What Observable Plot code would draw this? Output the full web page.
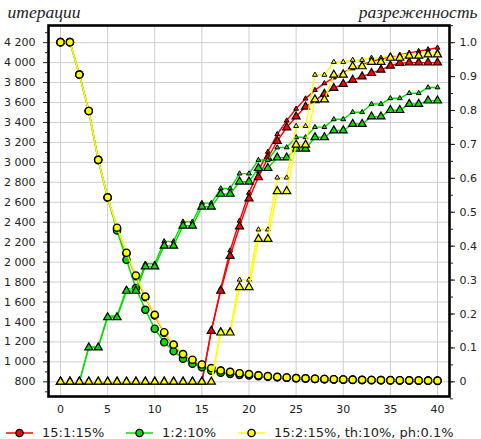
<!DOCTYPE html>
<html><head><meta charset="utf-8">
<script src="https://cdn.jsdelivr.net/npm/d3@7"></script>
<script src="https://cdn.jsdelivr.net/npm/@observablehq/plot@0.6"></script>
<style>
html,body{margin:0;padding:0;background:#fff;}
#chart{position:relative;width:481px;height:439px;overflow:hidden;font-family:"DejaVu Sans",sans-serif;}
#chart svg.plot{position:absolute;left:0;top:0;}
.legend-item{position:absolute;top:420px;height:25px;display:flex;align-items:center;font-size:13px;color:#222;white-space:nowrap;}
.legend-item svg{display:block;}
</style></head><body><div id="chart"></div>
<script>
// ---------- data ----------
const steps = [0,1,2,3,4,5,6,7,8,9,10,11,12,13,14,15,16,17,18,19,20,21,22,23,24,25,26,27,28,29,30,31,32,33,34,35,36,37,38,39,40];
const seriesNames = ["15:1:15%", "1:2:10%", "15:2:15%, th:10%, ph:0.1%"];
const seriesColors = ["#ff0000", "#00e000", "#ffff00"];

// iterations (left axis, circles)
const iterRed    = [4205,4205,3880,3515,3025,2648,2338,2086,1858,1648,1465,1290,1168,1072,1017,970,934,910,897,883,875,863,855,848,842,837,833,830,827,825,823,821,819,818,817,816,815,814,813,812,811];
const iterGreen  = [4205,4205,3880,3515,3025,2648,2318,2024,1739,1522,1332,1197,1107,1031,981,946,912,892,880,870,864,857,851,846,841,836,833,829,827,824,822,820,818,817,816,815,814,813,812,811,810];
const iterYellow = [4205,4205,3880,3515,3025,2650,2345,2094,1866,1655,1472,1297,1174,1078,1022,974,938,913,900,886,878,865,857,850,844,838,835,831,829,826,824,822,820,819,818,817,816,815,814,813,812];

// sparsity (right axis) – large triangles
const sparseLargeRed    = [0,0,0,0,0,0,0,0,0,0,0,0,0,0,0,0,0.150,0.268,0.371,0.458,0.540,0.603,0.660,0.710,0.750,0.782,0.811,0.830,0.849,0.866,0.878,0.890,0.900,0.910,0.920,0.932,0.940,0.941,0.941,0.941,0.941];
const sparseLargeGreen  = [0,0,0,0.101,0.101,0.190,0.190,0.268,0.268,0.340,0.340,0.401,0.401,0.460,0.460,0.516,0.516,0.554,0.554,0.590,0.590,0.630,0.630,0.661,0.661,0.687,0.687,0.721,0.721,0.741,0.741,0.760,0.760,0.782,0.782,0.801,0.801,0.819,0.819,0.829,0.829];
const sparseLargeYellow = [0,0,0,0,0,0,0,0,0,0,0,0,0,0,0,0,0,0.145,0.145,0.279,0.279,0.421,0.421,0.562,0.562,0.699,0.699,0.832,0.832,0.905,0.905,0.930,0.930,0.943,0.943,0.955,0.955,0.961,0.961,0.965,0.965];
// sparsity – small triangles
const sparseSmallRed    = [0,0,0,0,0,0,0,0,0,0,0,0,0,0,0,0,0.150,0.275,0.387,0.475,0.557,0.622,0.678,0.730,0.770,0.805,0.835,0.860,0.880,0.897,0.912,0.924,0.935,0.944,0.952,0.958,0.964,0.970,0.975,0.980,0.985];
const sparseSmallGreen  = [0,0,0,0.103,0.103,0.194,0.194,0.274,0.274,0.348,0.348,0.414,0.414,0.472,0.472,0.527,0.527,0.570,0.570,0.614,0.614,0.654,0.654,0.691,0.691,0.721,0.721,0.751,0.751,0.774,0.774,0.795,0.795,0.819,0.819,0.836,0.836,0.851,0.851,0.868,0.868];
const sparseSmallYellow = [0,0,0,0,0,0,0,0,0,0,0,0,0,0,0,0,0,0.152,0.152,0.301,0.301,0.449,0.449,0.602,0.602,0.754,0.754,0.905,0.905,0.943,0.943,0.949,0.949,0.955,0.955,0.962,0.962,0.967,0.967,0.972,0.972];

// axis ticks and labels
const stepTicks = [0,5,10,15,20,25,30,35,40];
const iterationTicks = [800,1000,1200,1400,1600,1800,2000,2200,2400,2600,2800,3000,3200,3400,3600,3800,4000,4200];
const iterationTickLabels = ["800","1 000","1 200","1 400","1 600","1 800","2 000","2 200","2 400","2 600","2 800","3 000","3 200","3 400","3 600","3 800","4 000","4 200"];
const sparsityTicks = [0,0.1,0.2,0.3,0.4,0.5,0.6,0.7,0.8,0.9,1.0];
const sparsityTickLabels = ["0","0.1","0.2","0.3","0.4","0.5","0.6","0.7","0.8","0.9","1.0"];
const leftTitle = "итерации";
const rightTitle = "разреженность";
// right axis alignment with left axis: sparsity 0 ↔ 800, 1.0 ↔ 4200
const sparsityAlign = [800, 4200];

// ---------- build ----------
const toY = s => sparsityAlign[0] + (sparsityAlign[1] - sparsityAlign[0]) * s;
const rowsIter = vals => vals.map((v, i) => ({x: steps[i], y: v}));
const rowsSparse = vals => vals.map((v, i) => ({x: steps[i], y: toY(v)}));

const iterSeries = [iterRed, iterGreen, iterYellow];
const largeSeries = [sparseLargeRed, sparseLargeGreen, sparseLargeYellow];
const smallSeries = [sparseSmallRed, sparseSmallGreen, sparseSmallYellow];

const leftLabelMap = new Map(iterationTicks.map((t, i) => [t, iterationTickLabels[i]]));
const rightPositions = sparsityTicks.map(toY);
const rightLabelMap = new Map(rightPositions.map((t, i) => [t, sparsityTickLabels[i]]));
const leftMinor = d3.range(700, 4400, 100).filter(v => !leftLabelMap.has(v));
const rightMinor = d3.range(-0.05, 1.06, 0.05).map(v => toY(+v.toFixed(2)));

const marks = [
  Plot.gridX(stepTicks, {stroke: "#cfcfcf", strokeOpacity: 1, strokeWidth: 1}),
  Plot.gridY(iterationTicks, {stroke: "#cfcfcf", strokeOpacity: 1, strokeWidth: 1})
];
for (let k = 0; k < 3; k++) {
  const c = seriesColors[k];
  const ir = rowsIter(iterSeries[k]);
  const sr = rowsSparse(smallSeries[k]);
  const lr = rowsSparse(largeSeries[k]);
  marks.push(
    Plot.line(ir, {x: "x", y: "y", stroke: c, strokeWidth: 1.5}),
    Plot.dot(ir, {x: "x", y: "y", r: 3.6, fill: c, stroke: "black", strokeWidth: 1.4}),
    Plot.line(sr, {x: "x", y: "y", stroke: c, strokeWidth: 1.4}),
    Plot.dot(sr, {x: "x", y: "y", symbol: "triangle", r: 1.8, fill: c, stroke: "black", strokeWidth: 1}),
    Plot.line(lr, {x: "x", y: "y", stroke: c, strokeWidth: 1.4}),
    Plot.dot(lr, {x: "x", y: "y", symbol: "triangle", r: 3.0, fill: c, stroke: "black", strokeWidth: 1.2})
  );
}
marks.push(
  Plot.frame({stroke: "black", strokeWidth: 2.6}),
  Plot.axisX(stepTicks, {anchor: "bottom", tickSize: 0, tickPadding: 9, label: null}),
  Plot.axisY(iterationTicks, {anchor: "left", tickSize: 5, tickPadding: 8, label: null, tickFormat: d => leftLabelMap.get(d)}),
  Plot.axisY(leftMinor, {anchor: "left", tickSize: 3, label: null, tickFormat: () => ""}),
  Plot.axisY(rightPositions, {anchor: "right", tickSize: 5, tickPadding: 5, label: null, tickFormat: d => rightLabelMap.get(d)}),
  Plot.axisY(rightMinor, {anchor: "right", tickSize: 3, label: null, tickFormat: () => ""}),
  Plot.text([leftTitle], {frameAnchor: "top-left", text: d => d, dx: -41, dy: -8, textAnchor: "start", lineAnchor: "bottom",
    fontFamily: "Liberation Serif, DejaVu Serif, serif", fontStyle: "italic", fontSize: 17.5, fill: "#222"}),
  Plot.text([rightTitle], {frameAnchor: "top-right", text: d => d, dx: 28, dy: -8, textAnchor: "end", lineAnchor: "bottom",
    fontFamily: "Liberation Serif, DejaVu Serif, serif", fontStyle: "italic", fontSize: 17.5, fill: "#222"})
);

const chart = Plot.plot({
  width: 481, height: 418,
  marginLeft: 48, marginRight: 32, marginTop: 25, marginBottom: 22,
  x: {domain: [-1.273, 41.273]},
  y: {domain: [653, 4372]},
  style: {fontFamily: "DejaVu Sans, sans-serif", fontSize: "11px", color: "#222", background: "white", overflow: "visible"},
  marks
});
chart.classList.add("plot");
const root = document.getElementById("chart");
root.appendChild(chart);

// legend (HTML)
const legendLeft = [6, 126, 238];
seriesNames.forEach((name, k) => {
  const item = document.createElement("div");
  item.className = "legend-item";
  item.style.left = legendLeft[k] + "px";
  const ns = "http://www.w3.org/2000/svg";
  const sw = document.createElementNS(ns, "svg");
  sw.setAttribute("width", 27); sw.setAttribute("height", 12);
  sw.style.marginRight = "9px";
  const ln = document.createElementNS(ns, "line");
  ln.setAttribute("x1", 0); ln.setAttribute("x2", 27); ln.setAttribute("y1", 6); ln.setAttribute("y2", 6);
  ln.setAttribute("stroke", seriesColors[k]); ln.setAttribute("stroke-width", 1.5);
  const ci = document.createElementNS(ns, "circle");
  ci.setAttribute("cx", 13.5); ci.setAttribute("cy", 6); ci.setAttribute("r", 3.6);
  ci.setAttribute("fill", seriesColors[k]); ci.setAttribute("stroke", "black"); ci.setAttribute("stroke-width", 1.4);
  sw.appendChild(ln); sw.appendChild(ci);
  const tx = document.createElement("span");
  tx.textContent = name;
  item.appendChild(sw); item.appendChild(tx);
  root.appendChild(item);
});
</script></body></html>
